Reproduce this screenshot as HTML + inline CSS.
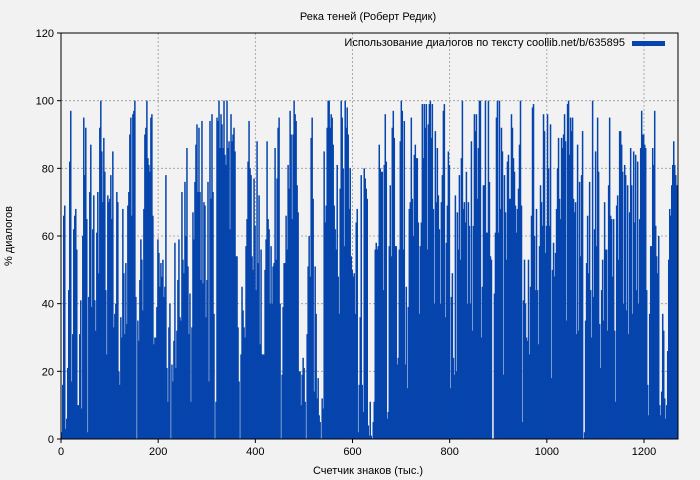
<!DOCTYPE html>
<html><head><meta charset="utf-8"><style>
html,body{margin:0;padding:0;background:#f2f2f2;}
svg{display:block;font-family:"Liberation Sans","DejaVu Sans",sans-serif;}
</style></head><body>
<svg id="chart" width="700" height="480" viewBox="0 0 700 480" xmlns="http://www.w3.org/2000/svg">
<rect x="0" y="0" width="700" height="480" fill="#f2f2f2"/>
<text x="368" y="20" font-size="11" text-anchor="middle" fill="#000">Река теней (Роберт Редик)</text>
<g id="grid"></g>
<g id="bars"></g>
<g id="axes"></g>
<text x="368" y="474" font-size="11" text-anchor="middle">Счетчик знаков (тыс.)</text>
<text x="12" y="236" font-size="11" text-anchor="middle" transform="rotate(-90 12 236)">% диалогов</text>
<g>
<text x="625" y="46" font-size="11" text-anchor="end">Использование диалогов по тексту coollib.net/b/635895</text>
<rect x="632" y="41" width="33" height="5" fill="#0645ad"/>
</g>
</svg>
<script>
const xTicks = [0,200,400,600,800,1000,1200];
const yTicks = [0,20,40,60,80,100,120];
const xMax = 1270;
const values = [
2,16,66,69,3,6,21,44,82,97,17,31,62,66,68,56,10,10,31,41,9,60,95,78,92,65,2,42,73,87,39,62,72,41,32,61,73,49,92,100,85,70,89,79,44,25,72,70,71,78,65,85,33,37,40,73,70,20,16,36,30,68,49,31,52,34,69,73,90,95,66,96,97,100,42,0,35,29,47,59,53,38,68,90,92,100,83,81,79,95,96,66,28,30,30,39,59,55,45,52,48,53,42,45,78,21,11,33,40,0,22,17,29,58,21,32,47,59,36,35,73,53,49,76,60,86,51,31,43,11,33,67,59,76,87,93,73,92,73,47,94,46,70,69,36,47,76,17,94,71,96,73,37,0,11,95,94,100,86,
96,93,86,100,84,81,100,86,88,62,96,88,90,92,85,54,54,33,17,0,25,45,38,33,30,57,65,82,94,80,78,54,50,77,63,44,88,52,72,28,56,25,25,25,50,59,88,65,62,40,57,40,51,52,86,53,77,92,95,40,0,19,39,52,52,66,56,81,74,97,90,65,90,100,96,94,75,67,20,20,10,19,24,21,11,0,31,51,60,48,89,95,71,14,51,37,12,18,7,5,0,12,9,85,64,69,92,100,100,92,96,95,87,69,62,56,81,48,37,74,100,95,80,57,100,92,98,90,68,80,54,50,48,49,37,64,68,2,16,36,78,16,8,80,77,74,71,4,1,11,1,0,5,11,56,58,56,
57,87,80,79,79,44,81,96,82,6,8,57,75,54,92,97,89,57,57,22,24,56,88,100,97,56,94,22,45,15,39,68,70,95,71,60,84,87,83,83,64,37,57,64,99,83,99,92,99,56,93,99,100,89,99,68,40,91,70,86,72,62,40,70,78,97,99,36,58,69,85,81,15,42,49,24,19,72,20,67,56,78,53,83,100,68,70,64,79,40,70,63,40,88,32,63,96,91,96,71,86,100,100,30,45,75,75,100,61,61,100,76,54,53,0,0,43,61,95,100,61,100,68,92,85,19,78,67,53,82,84,71,71,96,92,83,79,69,61,68,74,87,100,69,5,41,53,40,30,29,53,25,45,66,98,99,60,44,
68,44,28,57,75,70,63,96,91,55,63,96,80,63,93,18,50,58,48,55,68,80,89,71,65,89,86,90,96,88,35,99,100,84,95,91,95,71,67,70,31,87,32,76,54,78,91,0,2,35,52,66,49,76,44,30,100,42,62,85,57,95,79,34,21,44,53,35,70,56,56,32,75,95,66,65,48,65,32,11,69,72,53,91,91,87,79,40,81,78,38,75,31,67,86,75,37,85,64,84,44,82,40,65,86,97,90,90,87,86,44,16,7,37,57,57,86,81,97,63,54,49,60,10,7,14,37,32,12,6,10,26,53,68,66,75,81,88,81,78,75,75
];
const NS='http://www.w3.org/2000/svg';
const L=61,R=678,T=33,B=439;
function xs(v){return L+(v/xMax)*(R-L);}
function ys(v){return B-(v/120)*(B-T);}
const grid=document.getElementById('grid');
xTicks.forEach(t=>{if(t===0)return;
 const l=document.createElementNS(NS,'line');
 
 
 l.setAttribute('x1',xs(t));l.setAttribute('x2',xs(t));l.setAttribute('y1',T);l.setAttribute('y2',B);
 l.setAttribute('stroke','#999');l.setAttribute('stroke-dasharray','2,2');l.setAttribute('stroke-width','0.8');
 grid.appendChild(l);});
yTicks.forEach(t=>{if(t===0||t===120)return;
 const l=document.createElementNS(NS,'line');
 
 
 l.setAttribute('x1',L);l.setAttribute('x2',R);l.setAttribute('y1',ys(t));l.setAttribute('y2',ys(t));
 l.setAttribute('stroke','#999');l.setAttribute('stroke-dasharray','2,2');l.setAttribute('stroke-width','0.8');
 grid.appendChild(l);});
const bars=document.getElementById('bars');
const step=xMax/values.length;
values.forEach((v,i)=>{
 const r=document.createElementNS(NS,'rect');
 
 
 const x0=xs(i*step),x1=xs((i+1)*step);
 r.setAttribute('x',x0);r.setAttribute('width',(x1-x0)+0.5);
 r.setAttribute('y',ys(v));r.setAttribute('height',B-ys(v));
 r.setAttribute('fill','#0645ad');
 bars.appendChild(r);});
const axes=document.getElementById('axes');
const fr=document.createElementNS(NS,'rect');


fr.setAttribute('x',L);fr.setAttribute('y',T);fr.setAttribute('width',R-L);fr.setAttribute('height',B-T);
fr.setAttribute('fill','none');fr.setAttribute('stroke','#000');fr.setAttribute('stroke-width','1');
axes.appendChild(fr);
xTicks.forEach(t=>{
 const l=document.createElementNS(NS,'line');
 
 
 l.setAttribute('x1',xs(t));l.setAttribute('x2',xs(t));l.setAttribute('y1',B);l.setAttribute('y2',B+4);l.setAttribute('stroke','#000');
 axes.appendChild(l);
 const tx=document.createElementNS(NS,'text');
 
 
 tx.setAttribute('x',xs(t));tx.setAttribute('y',B+16);tx.setAttribute('font-size','11');tx.setAttribute('text-anchor','middle');
 tx.textContent=t;axes.appendChild(tx);});
yTicks.forEach(t=>{
 const l=document.createElementNS(NS,'line');
 
 
 l.setAttribute('x1',L-4);l.setAttribute('x2',L);l.setAttribute('y1',ys(t));l.setAttribute('y2',ys(t));l.setAttribute('stroke','#000');
 axes.appendChild(l);
 const tx=document.createElementNS(NS,'text');
 
 
 tx.setAttribute('x',L-7);tx.setAttribute('y',ys(t)+4);tx.setAttribute('font-size','11');tx.setAttribute('text-anchor','end');
 tx.textContent=t;axes.appendChild(tx);});
</script>
</body></html>
